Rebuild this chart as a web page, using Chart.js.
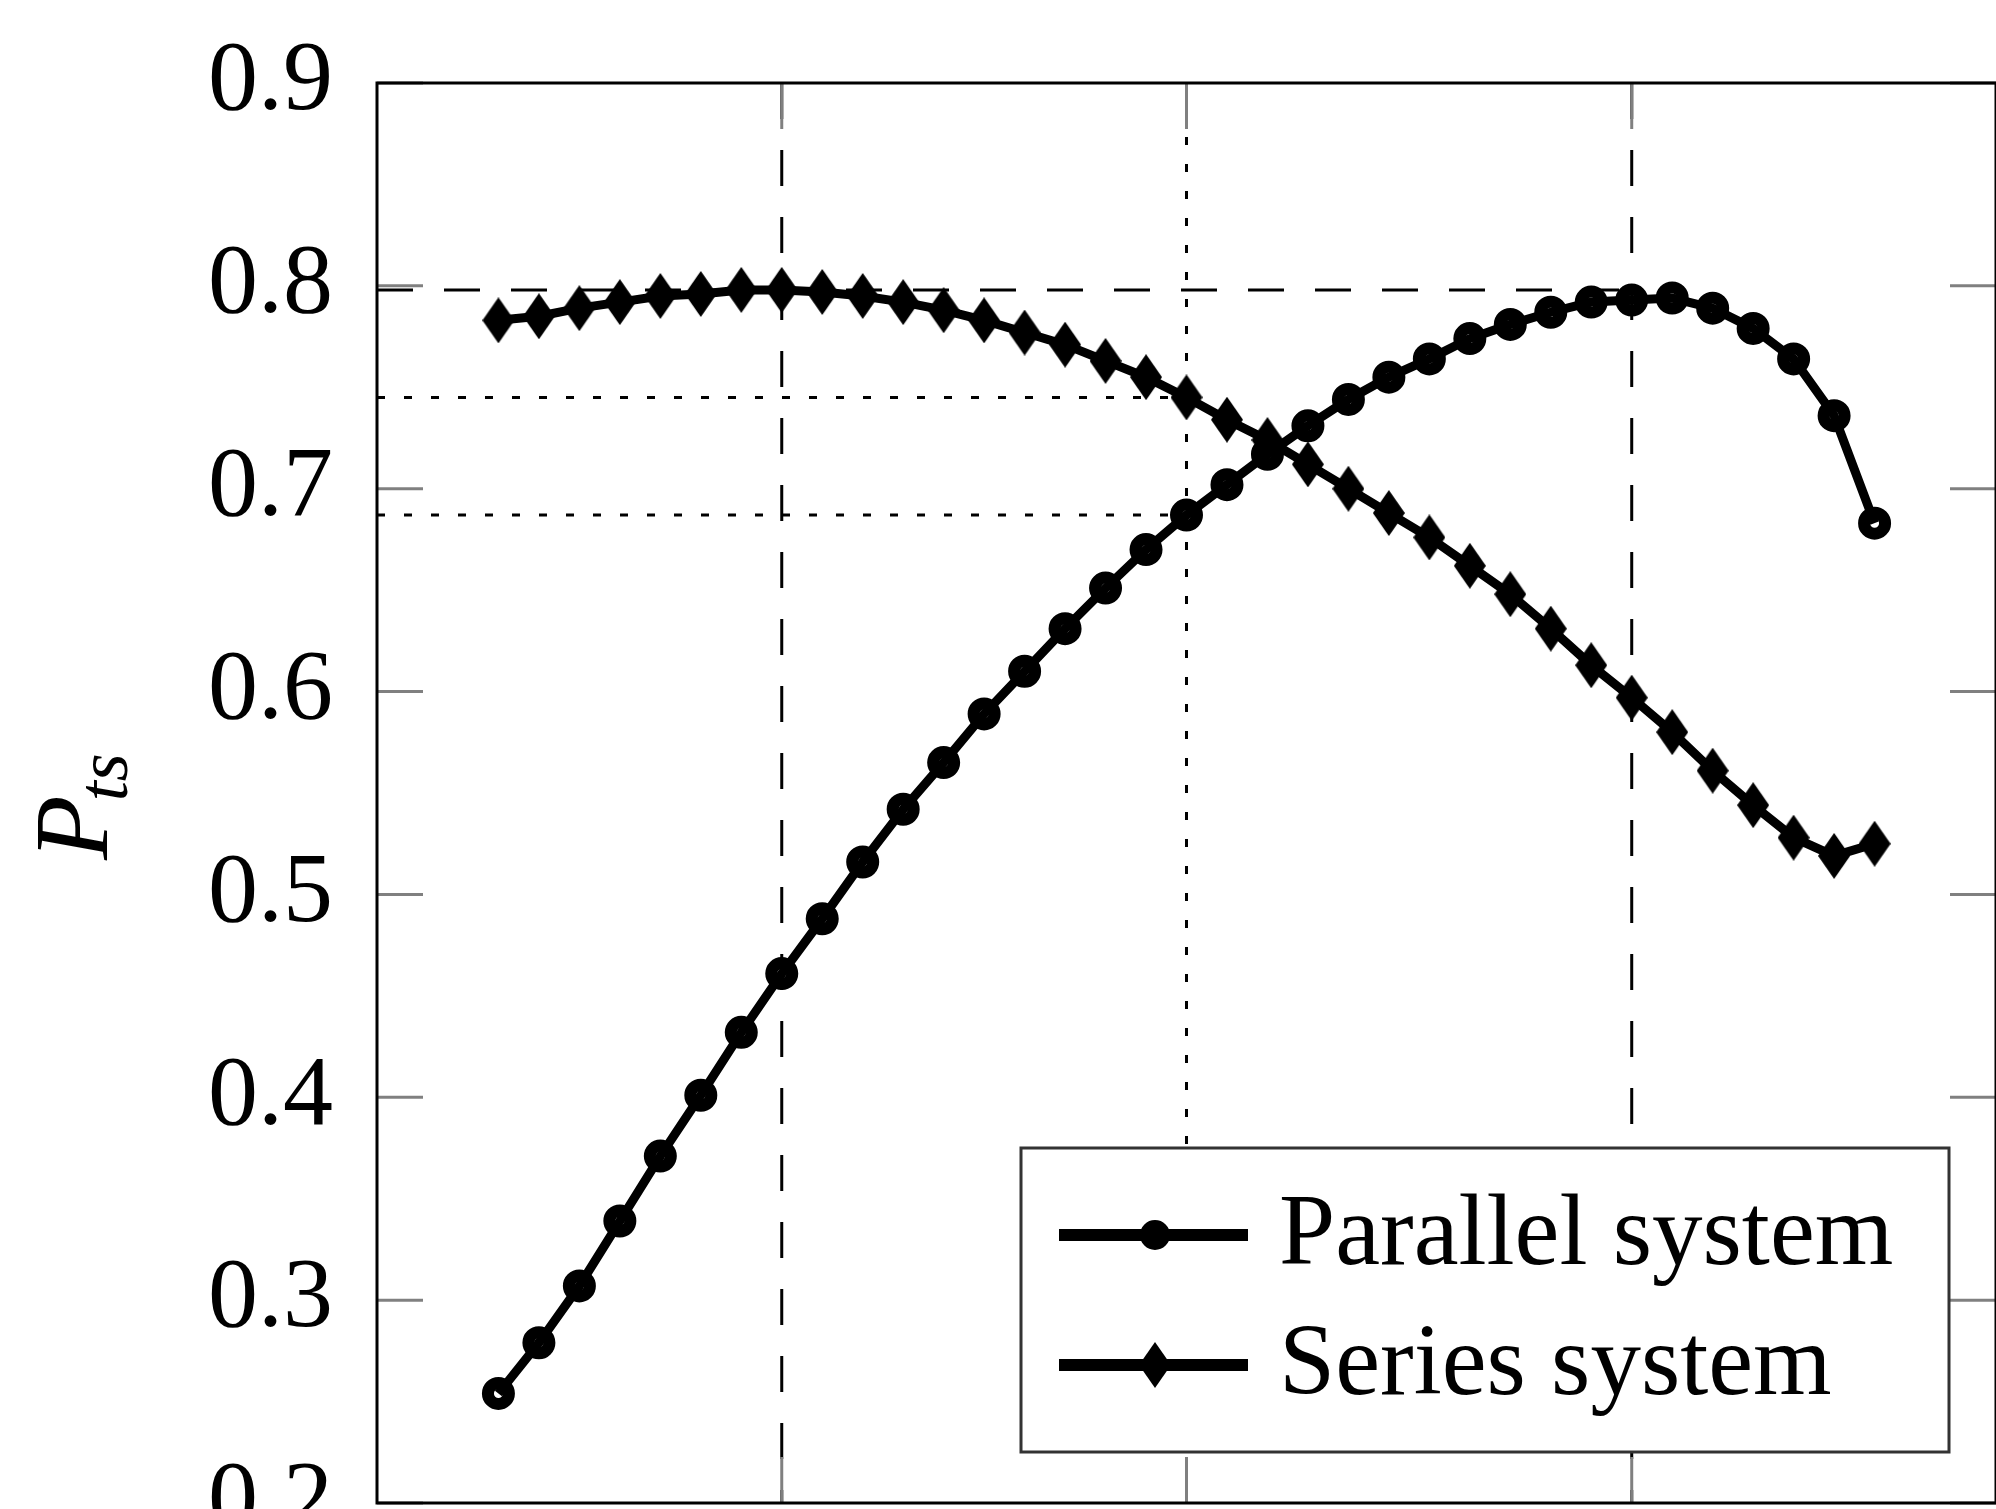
<!DOCTYPE html>
<html>
<head>
<meta charset="utf-8">
<script src="https://cdn.jsdelivr.net/npm/chart.js@4.4.1/dist/chart.umd.min.js"></script>
<style>
  html, body { margin: 0; padding: 0; background: #fff; overflow: hidden; }
  #wrap { width: 1996px; height: 1509px; }
</style>
</head>
<body>
<div id="wrap"><canvas id="mycanvas"></canvas></div>
<script>
// data
var xValues = [3, 4, 5, 6, 7, 8, 9, 10, 11, 12, 13, 14, 15, 16, 17, 18, 19, 20,
               21, 22, 23, 24, 25, 26, 27, 28, 29, 30, 31, 32, 33, 34, 35, 36, 37];
var parallelValues = [0.254, 0.279, 0.307, 0.339, 0.371, 0.401, 0.432, 0.461, 0.488,
                      0.516, 0.542, 0.565, 0.589, 0.610, 0.631, 0.651, 0.670, 0.687,
                      0.702, 0.717, 0.731, 0.744, 0.755, 0.764, 0.774, 0.781, 0.787,
                      0.792, 0.793, 0.794, 0.789, 0.779, 0.764, 0.736, 0.683];
var seriesValues = [0.783, 0.785, 0.789, 0.792, 0.795, 0.796, 0.798, 0.798, 0.797,
                    0.795, 0.792, 0.788, 0.783, 0.777, 0.771, 0.763, 0.755, 0.745,
                    0.734, 0.724, 0.712, 0.700, 0.688, 0.676, 0.662, 0.648, 0.631,
                    0.613, 0.597, 0.580, 0.561, 0.544, 0.528, 0.519, 0.525];
var yTicks = [0.2, 0.3, 0.4, 0.5, 0.6, 0.7, 0.8, 0.9];
var xTicks = [10, 20, 31];
var seriesNames = ['Parallel system', 'Series system'];

// guide lines (axis units)
var vDashed = [10, 31];
var vDotted = [20];
var hDashed = [[0.798, 31]];
var hDotted = [[0.745, 20], [0.687, 20]];

function makeDiamond(w, h) {
  var c = document.createElement('canvas');
  c.width = w; c.height = h;
  var g = c.getContext('2d');
  g.fillStyle = '#000';
  g.beginPath();
  g.moveTo(w / 2, 0); g.lineTo(w, h / 2); g.lineTo(w / 2, h); g.lineTo(0, h / 2);
  g.closePath();
  g.fill();
  return c;
}
var diamond = makeDiamond(32, 46);

function seg(ctx, x1, y1, x2, y2) {
  ctx.beginPath(); ctx.moveTo(x1, y1); ctx.lineTo(x2, y2); ctx.stroke();
}

var decor = {
  id: 'decor',
  beforeDatasetsDraw: function(chart) {
    var ctx = chart.ctx, a = chart.chartArea, xs = chart.scales.x, ys = chart.scales.y;
    ctx.save();
    ctx.strokeStyle = '#000';
    ctx.lineWidth = 3;
    ctx.setLineDash([36, 31]);
    vDashed.forEach(function(v) { var p = xs.getPixelForValue(v); seg(ctx, p, a.top, p, a.bottom); });
    hDashed.forEach(function(h) { var p = ys.getPixelForValue(h[0]); seg(ctx, a.left, p, xs.getPixelForValue(h[1]), p); });
    ctx.setLineDash([8, 19]);
    vDotted.forEach(function(v) { var p = xs.getPixelForValue(v); seg(ctx, p, a.top, p, a.bottom); });
    hDotted.forEach(function(h) { var p = ys.getPixelForValue(h[0]); seg(ctx, a.left, p, xs.getPixelForValue(h[1]), p); });
    ctx.setLineDash([]);
    // inward ticks
    ctx.strokeStyle = '#808080';
    ctx.lineWidth = 3;
    var tl = 46;
    yTicks.forEach(function(v) {
      var p = ys.getPixelForValue(v);
      seg(ctx, a.left, p, a.left + tl, p);
      seg(ctx, a.right - tl, p, a.right, p);
    });
    xTicks.forEach(function(v) {
      var p = xs.getPixelForValue(v);
      seg(ctx, p, a.top, p, a.top + tl);
      seg(ctx, p, a.bottom - tl, p, a.bottom);
    });
    // frame
    ctx.strokeStyle = '#000';
    ctx.lineWidth = 3;
    ctx.strokeRect(a.left, a.top, a.right - a.left, a.bottom - a.top);
    ctx.restore();
  },
  afterDraw: function(chart) {
    var ctx = chart.ctx;
    ctx.save();
    // y axis title P_ts
    ctx.fillStyle = '#000';
    ctx.translate(107, 860);
    ctx.rotate(-Math.PI / 2);
    ctx.font = 'italic 106px "Liberation Serif"';
    ctx.textBaseline = 'alphabetic';
    ctx.fillText('P', 0, 0);
    var w = ctx.measureText('P').width;
    ctx.font = 'italic 72px "Liberation Serif"';
    ctx.fillText('ts', w - 6, 20);
    ctx.restore();

    // legend
    ctx.save();
    var bx = 1021, by = 1148, bw = 928, bh = 304;
    ctx.fillStyle = '#fff';
    ctx.fillRect(bx, by, bw, bh);
    ctx.strokeStyle = '#333';
    ctx.lineWidth = 3;
    ctx.strokeRect(bx, by, bw, bh);
    var rows = [1235, 1365];
    rows.forEach(function(y, i) {
      ctx.strokeStyle = '#000';
      ctx.lineWidth = 12;
      seg(ctx, 1059, y, 1248, y);
      if (i === 0) {
        ctx.beginPath();
        ctx.arc(1155, y, 11, 0, Math.PI * 2);
        ctx.fillStyle = '#000';
        ctx.fill();
        ctx.lineWidth = 8;
        ctx.stroke();
      } else {
        ctx.drawImage(diamond, 1155 - diamond.width / 2, y - diamond.height / 2);
      }
      ctx.fillStyle = '#000';
      ctx.font = '101px "Liberation Serif"';
      ctx.textBaseline = 'alphabetic';
      ctx.fillText(seriesNames[i], 1279, y + 29);
    });
    ctx.restore();
  }
};

var ctx = document.getElementById('mycanvas');
var chart = new Chart(ctx, {
  type: 'line',
  data: {
    datasets: [
      {
        label: seriesNames[0],
        data: xValues.map(function(x, i) { return {x: x, y: parallelValues[i]}; }),
        borderColor: '#000',
        borderWidth: 9,
        pointStyle: 'circle',
        pointRadius: 10.5,
        pointBorderWidth: 12,
        pointBorderColor: '#000',
        pointBackgroundColor: 'rgba(0,0,0,0)',
        tension: 0,
        fill: false
      },
      {
        label: seriesNames[1],
        data: xValues.map(function(x, i) { return {x: x, y: seriesValues[i]}; }),
        borderColor: '#000',
        borderWidth: 9,
        pointStyle: diamond,
        pointRadius: 16,
        tension: 0,
        fill: false
      }
    ]
  },
  options: {
    responsive: true,
    maintainAspectRatio: false,
    animation: false,
    layout: { autoPadding: false, padding: { top: 83, right: 0, bottom: 6, left: 0 } },
    plugins: { legend: { display: false }, tooltip: { enabled: false } },
    scales: {
      x: { type: 'linear', min: 0, max: 40, display: false },
      y: {
        type: 'linear', min: 0.2, max: 0.9,
        grid: { display: false, drawTicks: false },
        border: { display: false },
        afterBuildTicks: function(scale) {
          scale.ticks = yTicks.map(function(v) { return {value: v}; });
        },
        afterFit: function(scale) {
          scale.width = 377;
          scale.paddingTop = 0;
          scale.paddingBottom = 0;
        },
        ticks: {
          autoSkip: false,
          padding: 44,
          color: '#000',
          font: { family: '"Liberation Serif"', size: 100 },
          callback: function(v) { return Number(v).toFixed(1); }
        }
      }
    }
  },
  plugins: [decor]
});
</script>
</body>
</html>
